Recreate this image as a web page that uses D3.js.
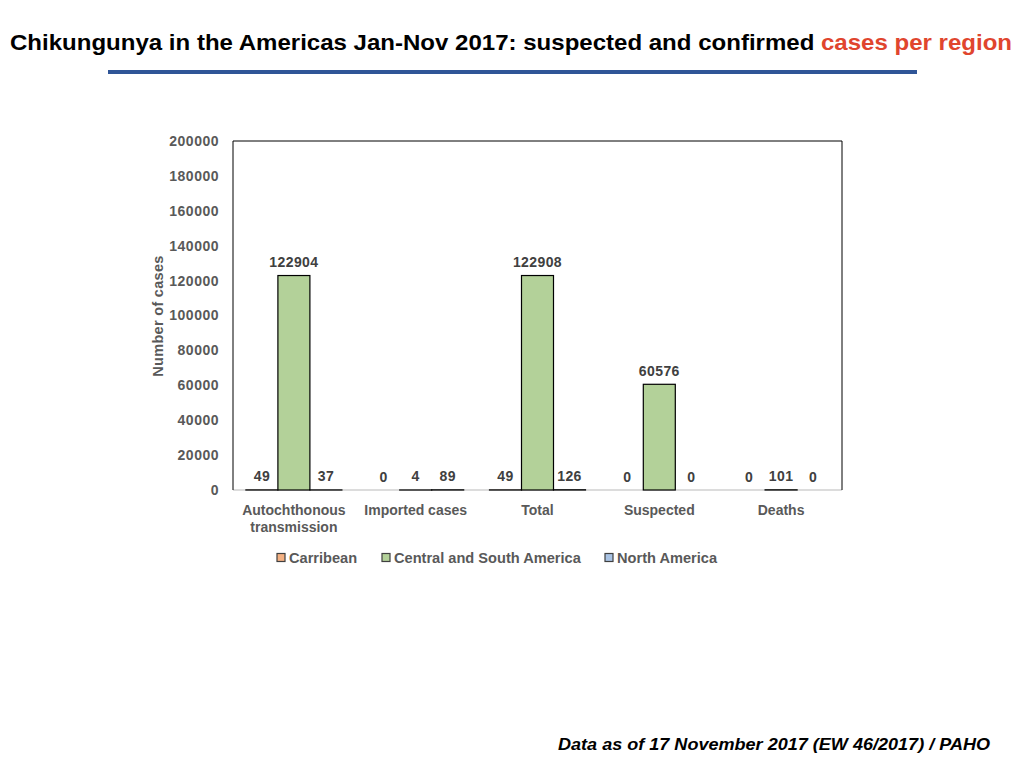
<!DOCTYPE html>
<html><head><meta charset="utf-8">
<script src="https://cdn.jsdelivr.net/npm/d3@7"></script>
<style>
body{margin:0;background:#fff;}
svg{display:block;font-family:"Liberation Sans",Arial,Helvetica,sans-serif;}
</style></head>
<body>
<script>
const categories = ["Autochthonous transmission", "Imported cases", "Total", "Suspected", "Deaths"];
const seriesNames = ["Carribean", "Central and South America", "North America"];
const carribean = [49, 0, 49, 0, 0];
const centralSouth = [122904, 4, 122908, 60576, 101];
const northAmerica = [37, 89, 126, 0, 0];
const yTicks = [0, 20000, 40000, 60000, 80000, 100000, 120000, 140000, 160000, 180000, 200000];
const colors = ["#f4b183", "#b3d199", "#a9c3e4"];

const W = 1024, H = 768;
const svg = d3.select("body").append("svg").attr("width", W).attr("height", H);

// Title
const title = svg.append("text").attr("x", 10).attr("y", 50)
  .attr("font-size", 21.5).attr("font-weight", "bold")
  .attr("textLength", 1002).attr("lengthAdjust", "spacingAndGlyphs");
title.append("tspan").attr("fill", "#000").text("Chikungunya in the Americas Jan-Nov 2017: suspected and confirmed ");
title.append("tspan").attr("fill", "#e0452e").text("cases per region");

svg.append("rect").attr("x", 108).attr("y", 70).attr("width", 809).attr("height", 4).attr("fill", "#2f5597");

// Chart
const plot = {l: 233, r: 842, t: 141, b: 490};
const y = d3.scaleLinear().domain([0, 200000]).range([plot.b, plot.t]);
const x0 = d3.scaleBand().domain(categories).range([plot.l, plot.r]).padding(0);
const gw = 96;
const bw = x0.bandwidth();
const x1 = d3.scaleBand().domain(seriesNames).range([(bw - gw) / 2, (bw + gw) / 2]).padding(0);

const series = [carribean, centralSouth, northAmerica];
const rows = [];
categories.forEach((c, i) => {
  seriesNames.forEach((s, j) => rows.push({cat: c, ser: s, v: series[j][i], color: colors[j]}));
});

// frame
svg.append("line").attr("x1", plot.l).attr("x2", plot.r).attr("y1", plot.b).attr("y2", plot.b)
  .attr("stroke", "#d0d0d0").attr("stroke-width", 1.5);
svg.append("path").attr("d", `M${plot.l},${plot.b}V${plot.t}H${plot.r}V${plot.b}`)
  .attr("fill", "none").attr("stroke", "#000").attr("stroke-width", 1);

// axis
const ax = svg.append("g").attr("transform", `translate(${plot.l},0)`)
  .call(d3.axisLeft(y).tickValues(yTicks).tickSize(0).tickPadding(14).tickFormat(d3.format("d")));
ax.select(".domain").remove();
ax.selectAll("text").attr("font-size", 14).attr("font-weight", "bold").attr("fill", "#595959")
  .attr("font-family", "Liberation Sans, Arial, sans-serif").attr("letter-spacing", 0.5);

svg.append("text").attr("transform", "translate(163,316) rotate(-90)")
  .attr("text-anchor", "middle").attr("font-size", 14.5).attr("font-weight", "bold").attr("fill", "#595959")
  .attr("letter-spacing", 0.3)
  .text("Number of cases");

// bars
svg.append("g").selectAll("rect").data(rows.filter(d => d.v > 0)).join("rect")
  .attr("x", d => x0(d.cat) + x1(d.ser))
  .attr("width", x1.bandwidth())
  .attr("y", d => y(d.v))
  .attr("height", d => plot.b - y(d.v))
  .attr("fill", d => d.color)
  .attr("stroke", "#000").attr("stroke-width", 1.2);

// value labels
svg.append("g").selectAll("text").data(rows).join("text")
  .attr("x", d => x0(d.cat) + x1(d.ser) + x1.bandwidth() / 2)
  .attr("y", d => y(d.v) - 8.5)
  .attr("text-anchor", "middle").attr("font-size", 14).attr("font-weight", "bold").attr("fill", "#404040")
  .attr("letter-spacing", 0.4)
  .text(d => d.v);

// category labels
const cl = svg.append("g").selectAll("text").data(categories).join("text")
  .attr("x", d => x0(d) + bw / 2).attr("y", 515)
  .attr("text-anchor", "middle").attr("font-size", 14).attr("font-weight", "bold").attr("fill", "#595959");
cl.each(function(d) {
  const words = d === "Autochthonous transmission" ? ["Autochthonous", "transmission"] : [d];
  const t = d3.select(this);
  words.forEach((w, i) => t.append("tspan").attr("x", x0(d) + bw / 2).attr("dy", i ? 17 : 0).text(w));
});

// legend
const legX = [277, 382, 605];
const leg = svg.append("g").selectAll("g").data(seriesNames).join("g")
  .attr("transform", (d, i) => `translate(${legX[i]},558)`);
leg.append("rect").attr("x", 0).attr("y", -4.5).attr("width", 8).attr("height", 8)
  .attr("fill", (d, i) => colors[i]).attr("stroke", "#404040").attr("stroke-width", 1.2);
leg.append("text").attr("x", 12).attr("y", 5).attr("font-size", 14.6).attr("font-weight", "bold")
  .attr("fill", "#595959").text(d => d);

// footer
svg.append("text").attr("x", 558).attr("y", 750).attr("font-size", 17).attr("font-weight", "bold")
  .attr("font-style", "italic").attr("fill", "#000")
  .attr("textLength", 432).attr("lengthAdjust", "spacingAndGlyphs")
  .text("Data as of 17 November 2017 (EW 46/2017) / PAHO");
</script>
</body></html>
